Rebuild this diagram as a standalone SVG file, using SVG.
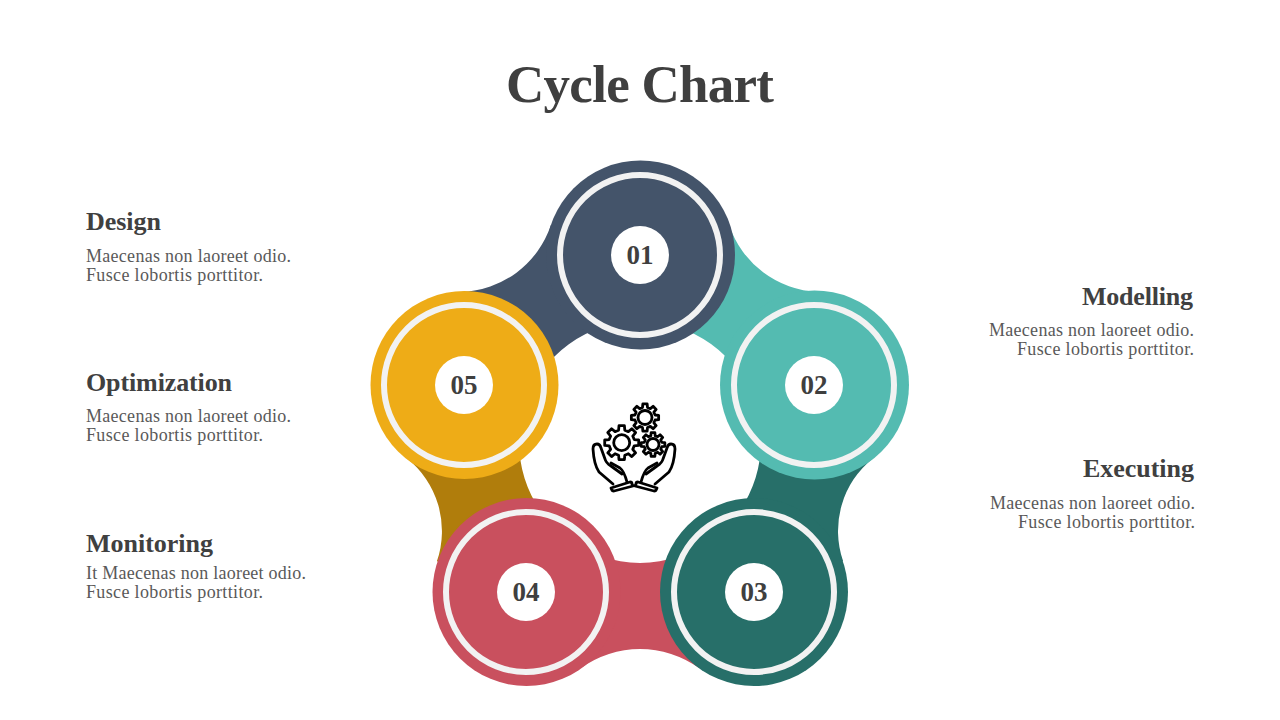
<svg xmlns="http://www.w3.org/2000/svg" xmlns:xlink="http://www.w3.org/1999/xlink" width="1280" height="720" viewBox="0 0 1280 720">
<style>
text{font-family:"Liberation Serif","DejaVu Serif",serif}
.t{font-size:53px;font-weight:700;fill:#3f3f3f;text-anchor:middle}
.h{font-size:26px;font-weight:700;fill:#404040}
.b{font-size:18px;fill:#595959}
.e{text-anchor:end}
.n{font-size:27px;font-weight:700;fill:#3f3f3f;text-anchor:middle}
.ring{fill:none;stroke:#f2f2f2;stroke-width:6}
.dot{fill:#fff}
.ic{fill:none;stroke:#000;stroke-width:2.8;stroke-linejoin:round;stroke-linecap:round}
.g{vector-effect:non-scaling-stroke}
</style>
<defs>
<polygon id="gear" class="g" points="7.28,-1.81 9.88,-1.56 9.88,1.56 7.28,1.81 6.43,3.86 8.09,5.88 5.88,8.09 3.86,6.43 1.81,7.28 1.56,9.88 -1.56,9.88 -1.81,7.28 -3.86,6.43 -5.88,8.09 -8.09,5.88 -6.43,3.86 -7.28,1.81 -9.88,1.56 -9.88,-1.56 -7.28,-1.81 -6.43,-3.86 -8.09,-5.88 -5.88,-8.09 -3.86,-6.43 -1.81,-7.28 -1.56,-9.88 1.56,-9.88 1.81,-7.28 3.86,-6.43 5.88,-8.09 8.09,-5.88 6.43,-3.86"/>
<g id="hand">
<path d="M613 484L599 472Q594 465 593 449Q593 444 597 444Q600 444 601 448L605 459Q606 463 611 466L622 474"/>
<path d="M611 463L620 468Q624 471 627 482"/>
<path d="M611 488L630 482Q632 482 632 484L633 486L614 491Q612 491 612 490Z"/>
</g>
</defs>
<text class="t" x="640" y="102" textLength="268" lengthAdjust="spacing">Cycle Chart</text>
<g id="connectors">
<path fill="#44546A" d="M550.9 225.1A98 98 0 0 1 461.1 292L464 385L524.9 404.7A121 121 0 0 1 640 321L640 255Z"/>
<path fill="#54BBB1" d="M817.9 291.9A98 98 0 0 1 729.1 225.1L640 255L640 321A121 121 0 0 1 755 404.3L814 385Z"/>
<path fill="#276F69" d="M872.8 458.4A93 93 0 0 0 843.1 561.3L754 592L713.2 538.3A121 121 0 0 0 755 404.3L814 385Z"/>
<path fill="#C9505E" d="M699.1 668.1A101 101 0 0 0 580.9 668.1L526 592L566.8 538.3A121 121 0 0 0 713.2 538.3L754 592Z"/>
<path fill="#B07D0C" d="M436.9 561.3A93 93 0 0 0 406.5 458L464 385L524.9 404.7A121 121 0 0 0 566.8 538.3L526 592Z"/>
</g>
<g id="node-01"><circle cx="640.5" cy="255" r="94.5" fill="#44546A"/><circle class="ring" cx="640" cy="255" r="80"/><circle class="dot" cx="640" cy="255" r="29"/><text class="n" x="640" y="264">01</text></g>
<g id="node-02"><circle cx="814.5" cy="385" r="94.5" fill="#54BBB1"/><circle class="ring" cx="814" cy="385" r="80"/><circle class="dot" cx="814" cy="385" r="29"/><text class="n" x="814" y="394">02</text></g>
<g id="node-03"><circle cx="754" cy="592" r="94" fill="#276F69"/><circle class="ring" cx="754" cy="592" r="80"/><circle class="dot" cx="754" cy="592" r="29"/><text class="n" x="754" y="601">03</text></g>
<g id="node-04"><circle cx="526.5" cy="592" r="94" fill="#C9505E"/><circle class="ring" cx="526" cy="592" r="80"/><circle class="dot" cx="526" cy="592" r="29"/><text class="n" x="526" y="601">04</text></g>
<g id="node-05"><circle cx="464.5" cy="385" r="94" fill="#EEAC17"/><circle class="ring" cx="464" cy="385" r="80"/><circle class="dot" cx="464" cy="385" r="29"/><text class="n" x="464" y="394">05</text></g>
<g id="icon" class="ic">
<use href="#gear" xlink:href="#gear" transform="translate(621.7 442.7) scale(1.72)"/><circle cx="621.7" cy="442.7" r="8"/>
<use href="#gear" xlink:href="#gear" transform="translate(653 444.5) scale(1.2)"/><circle cx="653" cy="444.5" r="6"/>
<use href="#gear" xlink:href="#gear" transform="translate(645 417.5) scale(1.38)"/><circle cx="645" cy="417.5" r="7"/>
<use href="#hand" xlink:href="#hand"/>
<use href="#hand" xlink:href="#hand" transform="translate(1268 0) scale(-1 1)"/>
</g>
<g id="label-design"><text class="h" x="86" y="230" textLength="75">Design</text><text class="b" x="86" y="261.5" textLength="205">Maecenas non laoreet odio.</text><text class="b" x="86" y="280.5" textLength="177">Fusce lobortis porttitor.</text></g>
<g id="label-optimization"><text class="h" x="86" y="391" textLength="146">Optimization</text><text class="b" x="86" y="421.5" textLength="205">Maecenas non laoreet odio.</text><text class="b" x="86" y="440.5" textLength="177">Fusce lobortis porttitor.</text></g>
<g id="label-monitoring"><text class="h" x="86" y="552" textLength="127">Monitoring</text><text class="b" x="86" y="578.5" textLength="220">It Maecenas non laoreet odio.</text><text class="b" x="86" y="597.5" textLength="177">Fusce lobortis porttitor.</text></g>
<g id="label-modelling"><text class="h e" x="1193" y="305" textLength="111">Modelling</text><text class="b e" x="1194" y="335.5" textLength="205">Maecenas non laoreet odio.</text><text class="b e" x="1194" y="354.5" textLength="177">Fusce lobortis porttitor.</text></g>
<g id="label-executing"><text class="h e" x="1194" y="477" textLength="111">Executing</text><text class="b e" x="1195" y="508.5" textLength="205">Maecenas non laoreet odio.</text><text class="b e" x="1195" y="527.5" textLength="177">Fusce lobortis porttitor.</text></g>
</svg>
